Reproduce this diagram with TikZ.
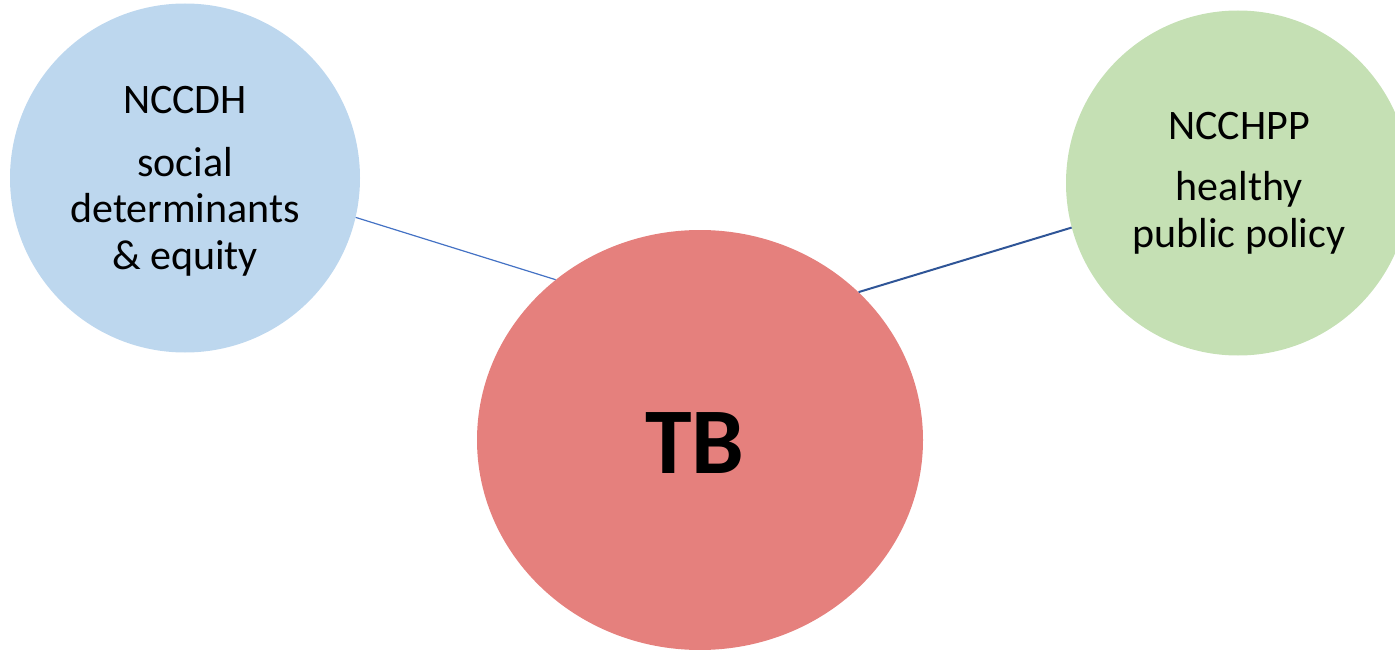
\documentclass[tikz,border=0pt]{standalone}
\usepackage{fontspec}
\setmainfont{Carlito}
\usepackage{tikz}
\usetikzlibrary{shapes.geometric, positioning, calc}
\definecolor{sdhblue}{HTML}{BDD7EE}
\definecolor{hppgreen}{HTML}{C5E0B4}
\definecolor{tbred}{HTML}{E5807D}
\definecolor{linkblue}{HTML}{4472C4}
\definecolor{linkdark}{HTML}{2F5597}

\begin{document}
\begin{tikzpicture}[x=1pt, y=-1pt,
  centre/.style={ellipse, inner sep=0pt, draw=none},
  label/.style={font=\fontsize{42}{46.5}\selectfont, align=center, anchor=base, inner sep=0pt}]
\useasboundingbox (0,0) rectangle (1395,650);

% The three centres
\node[centre, fill=sdhblue, minimum width=350pt, minimum height=349pt] (sdh) at (185,178) {};
\node[centre, fill=hppgreen, minimum width=344pt, minimum height=345pt] (hpp) at (1238,183) {};
\node[centre, fill=tbred, minimum width=446pt, minimum height=420pt] (tb) at (700,440) {};

% Links to TB
\draw[linkblue, line width=1.2pt] (sdh.-13) -- (tb.132.6);
\draw[linkdark, line width=2pt] (tb.43.5) -- (hpp.195.6);

% Texts
\node[label] (sdhname) at (185,114) {NCCDH};
\node[label] (sdhtopic) at (185,269) {social\\determinants\\\& equity};
\node[label] (hppname) at (1239,140) {NCCHPP};
\node[label] (hpptopic) at (1239,247) {healthy\\public policy};
\node[font=\fontsize{94}{100}\selectfont\bfseries, anchor=base, inner sep=0pt] (tbname) at (695,473) {TB};
\end{tikzpicture}
\end{document}
